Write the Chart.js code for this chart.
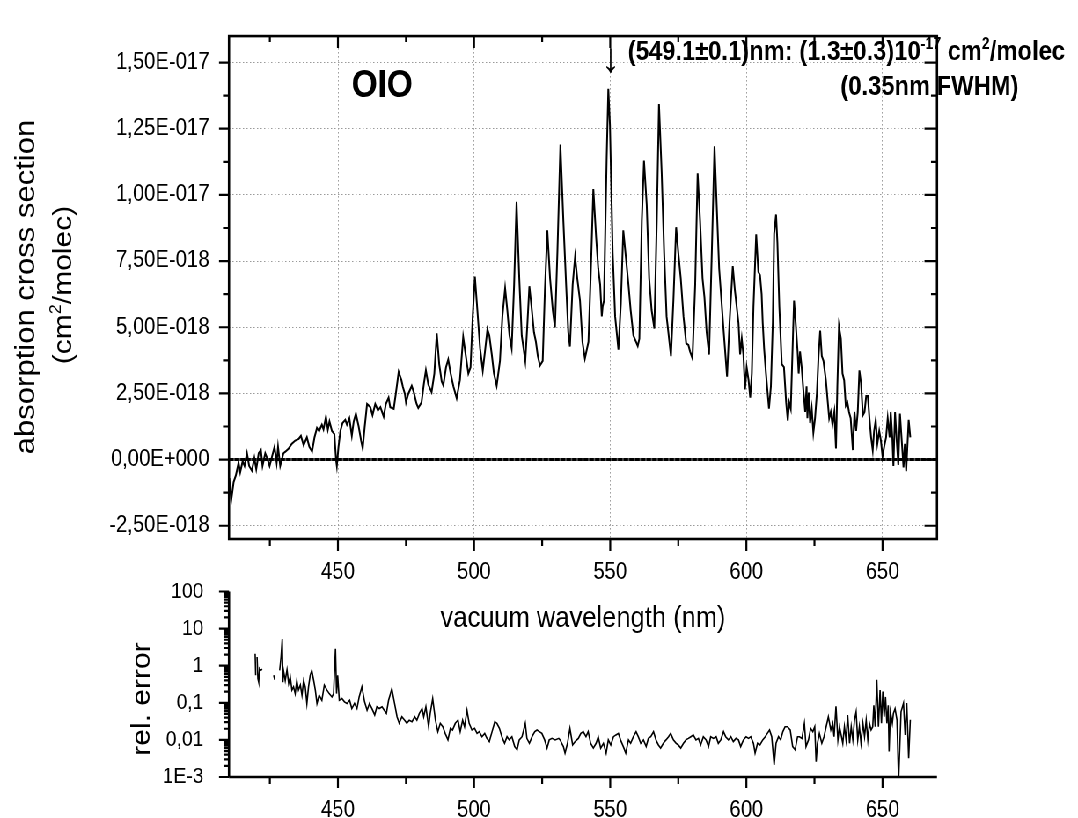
<!DOCTYPE html>
<html><head><meta charset="utf-8">
<script src="https://cdn.jsdelivr.net/npm/chart.js@4.4.1/dist/chart.umd.min.js"></script>
<style>
html,body{margin:0;padding:0;background:#fff;overflow:hidden;width:1078px;height:818px;}
#wrap{position:absolute;left:0;top:0;width:1225px;height:818px;transform:scaleX(0.88);transform-origin:0 0;}
#wrap canvas{position:absolute;left:0;top:0;}
</style></head><body>
<div id="wrap">
<canvas id="top" width="1225" height="818" style="width:1225px;height:818px"></canvas>
<canvas id="bot" width="1225" height="818" style="width:1225px;height:818px"></canvas>
</div>
<script>
// ---- data ----
// absorption cross section of OIO, in units of 1e-18 cm^2/molec
const wavelength = [410.1,410.8,411.7,412.5,413.5,414.1,415.0,415.7,416.6,417.4,418.4,419.3,420.0,420.9,421.7,422.3,423.3,424.2,424.9,425.8,426.7,427.5,428.0,428.8,429.4,430.0,430.7,431.9,433.1,434.3,435.6,436.4,437.4,438.6,439.5,440.5,441.4,442.3,443.1,444.1,444.7,445.6,446.3,446.9,447.8,448.7,449.3,449.6,450.2,450.9,451.7,452.7,453.3,454.2,455.1,455.8,456.6,457.6,458.5,459.1,459.8,460.7,461.9,462.7,463.7,464.7,465.6,466.8,467.6,468.6,469.2,470.5,471.3,472.3,473.3,473.8,474.6,475.0,475.8,477.1,477.9,478.9,479.5,480.7,481.6,482.3,483.2,484.4,485.4,486.3,487.2,488.1,488.7,489.7,490.5,491.4,492.4,493.6,494.8,496.0,496.9,497.9,498.7,499.5,500.3,501.2,502.2,503.2,504.0,504.9,505.6,506.5,507.3,508.3,509.5,510.4,511.4,512.2,513.0,513.8,514.7,515.6,516.6,517.5,518.8,519.6,520.3,521.1,522.0,522.7,523.4,524.2,525.2,526.0,526.9,527.9,528.9,529.7,530.6,531.7,532.8,533.8,534.6,535.2,536.2,537.1,537.9,538.9,539.8,540.7,542.0,542.8,543.8,544.8,545.6,546.3,546.9,547.2,547.7,548.7,549.3,549.9,550.9,551.8,553.0,553.9,554.8,555.8,556.7,557.5,558.5,559.5,560.1,560.7,561.6,562.4,563.4,564.3,565.2,566.2,567.1,567.9,568.9,569.8,570.7,572.3,573.2,574.2,575.0,575.9,576.9,577.9,578.7,579.3,580.2,581.2,582.1,583.0,583.9,584.6,585.4,586.3,587.3,588.3,589.1,590.0,591.6,592.9,593.8,595.0,595.8,597.1,597.7,598.3,598.9,599.5,600.1,600.8,601.4,602.0,602.6,603.6,604.4,605.0,605.6,606.0,606.5,607.2,608.3,609.0,609.7,610.2,610.9,611.4,612.1,613.0,613.8,614.6,615.2,615.7,616.3,616.9,617.5,618.1,618.8,619.2,619.7,620.3,620.9,621.6,622.1,622.4,622.9,623.4,624.0,624.6,625.2,625.9,626.5,627.1,627.7,628.3,629.2,629.8,630.4,631.0,631.6,632.3,632.9,633.4,634.0,634.7,635.3,635.9,636.5,637.1,637.7,638.3,639.1,639.7,640.3,640.9,641.5,642.1,642.8,643.4,644.0,644.6,645.2,645.8,646.4,646.9,647.5,648.1,648.8,649.4,650.0,650.6,651.3,651.9,652.6,653.0,653.6,654.0,654.6,655.2,655.8,656.4,657.0,657.7,658.2,658.7,659.6,660.2];
const crossSection = [-0.7,-1.55,-0.85,-0.6,-0.12,-0.48,-0.06,-0.24,0.24,-0.24,-0.42,0.06,-0.36,0.24,0.36,-0.24,0.24,0.0,-0.24,0.12,0.48,-0.12,0.48,-0.24,0.0,0.24,0.30,0.42,0.60,0.72,0.78,0.90,0.54,0.84,0.48,0.30,0.84,1.20,1.08,1.32,1.14,1.62,1.14,1.44,1.08,0.96,0.0,-0.24,0.48,1.08,1.38,1.50,1.32,1.56,0.90,1.44,1.74,1.26,0.72,0.42,1.20,2.10,1.98,1.68,2.10,1.86,1.98,1.62,2.10,2.34,1.98,1.92,2.52,3.31,3.01,2.77,2.47,2.16,2.47,2.79,2.53,2.10,1.95,2.16,2.89,3.37,2.83,2.55,3.25,4.77,3.61,2.95,2.80,3.49,3.78,3.25,2.77,2.32,3.00,4.63,3.97,3.25,3.49,5.41,6.91,5.65,4.21,3.37,4.09,4.93,4.69,3.97,3.25,2.79,3.73,5.41,6.47,5.65,4.69,4.21,6.61,9.74,6.85,4.69,3.73,5.17,6.55,5.77,4.81,4.45,3.91,3.55,3.73,6.37,8.66,6.85,5.65,4.99,7.82,11.9,9.0,6.6,4.81,4.27,6.61,7.67,6.85,6.01,4.45,3.82,4.45,6.85,10.22,8.42,7.22,6.61,5.41,5.77,6.01,11.42,14.01,12.63,7.82,5.41,4.15,5.89,8.66,7.58,6.61,5.65,4.69,4.45,4.29,4.57,9.02,11.30,9.62,6.85,5.65,4.95,9.02,13.43,10.82,7.82,5.41,3.91,6.01,8.78,7.82,6.85,5.41,4.39,4.33,4.09,3.82,6.61,10.82,9.02,6.85,6.13,4.81,3.97,7.82,11.84,9.62,7.22,4.93,3.13,5.17,7.31,6.37,5.17,3.97,4.57,3.97,2.65,3.49,3.00,2.34,3.25,5.77,8.51,7.09,6.97,6.25,5.17,4.21,3.25,1.92,2.77,5.17,8.54,9.26,8.18,5.77,3.61,3.49,2.16,1.47,2.16,1.92,3.97,6.01,5.17,4.09,3.25,4.09,3.49,2.65,1.80,2.77,1.56,2.53,1.38,1.92,1.02,1.56,2.53,3.91,4.87,3.91,3.73,3.00,2.28,1.56,1.80,1.32,1.80,0.42,2.77,5.03,4.57,3.25,3.00,2.04,2.16,1.80,1.56,0.36,1.80,1.08,1.80,3.37,2.89,1.68,1.80,2.40,2.40,1.56,0.84,0.36,1.08,1.50,0.60,1.08,0.72,0.12,0.48,0.84,1.56,0.84,1.80,0.84,-0.24,1.80,0.72,-0.2,1.74,0.8,-0.3,0.6,-0.44,1.5,0.84];

// relative error (null = gap in the measured curve)
const errWavelength = [419.6,419.8,420.0,420.3,420.6,420.9,421.2,421.6,422.2,422.4,426.4,426.8,427.2,428.6,429.1,429.55,429.8,430.0,430.65,431.3,431.9,432.5,433.1,433.7,434.3,434.9,435.5,436.2,436.8,437.4,438.0,438.6,439.2,439.8,440.4,441.1,441.7,442.3,443.1,444.1,445.0,446.0,446.8,447.8,448.4,449.1,449.5,449.9,450.5,451.5,452.4,453.3,454.3,455.1,456.1,457.0,457.8,458.8,459.8,460.7,461.6,462.5,463.5,464.3,465.2,466.2,467.0,467.8,468.6,469.8,470.8,471.7,472.5,473.5,474.5,475.3,476.2,477.2,478.2,479.0,479.9,480.9,481.5,482.3,483.3,483.9,484.8,485.8,486.7,487.6,488.5,489.4,490.4,491.3,492.1,493.1,494.1,494.9,495.8,496.5,497.4,498.2,499.2,500.2,501.1,501.9,502.9,503.9,504.7,505.6,506.6,507.6,508.4,509.3,510.2,511.2,512.1,512.9,513.9,514.9,515.8,516.6,517.6,518.2,518.8,519.4,520.3,521.3,522.3,523.1,524.0,524.9,525.9,526.8,527.6,528.6,529.8,531.1,531.6,532.8,533.4,534.3,535.2,536.2,537.1,538.3,539.2,540.1,541.1,541.9,542.8,543.8,544.8,545.6,546.5,547.5,548.5,549.3,550.2,551.2,552.1,553.0,553.8,554.8,555.7,556.7,557.5,558.5,559.5,560.3,561.2,562.2,563.2,564.0,564.9,565.9,566.8,567.7,568.5,569.5,570.5,571.4,572.2,573.2,574.2,575.0,575.9,576.9,577.8,578.7,579.6,580.5,581.5,582.4,583.2,584.2,585.2,586.1,586.9,587.9,588.9,589.7,590.6,591.6,592.4,593.4,594.3,595.2,596.2,597.1,597.9,598.9,599.9,600.8,601.6,602.6,603.2,604.1,605.0,606.0,606.9,607.7,608.5,609.3,610.2,610.9,611.8,612.6,613.4,614.2,615.1,616.1,617.0,617.9,618.8,619.5,620.4,621.3,621.9,622.8,623.6,624.4,625.1,625.6,626.1,626.8,627.7,628.5,629.3,630.1,631.0,631.7,632.2,632.9,633.6,634.2,634.8,635.4,636.0,636.6,637.2,637.9,638.5,639.1,639.7,640.3,640.9,641.5,642.1,642.8,643.4,644.0,644.6,645.2,645.8,646.4,646.8,647.3,647.9,648.5,649.1,649.6,650.1,650.6,651.1,651.6,652.1,652.4,652.9,653.6,654.0,654.6,655.3,655.9,656.8,657.7,658.3,658.9,659.6,660.2];
const relError = [2.09,0.55,null,1.71,0.45,0.36,0.83,0.75,0.80,null,0.55,0.42,null,0.75,1.71,5.28,0.36,0.75,0.40,0.78,0.33,0.50,0.22,0.27,0.177,0.40,0.22,0.30,0.16,0.40,0.27,0.096,0.27,0.55,0.75,0.40,0.22,0.096,0.16,0.117,0.30,0.22,0.177,0.144,0.177,2.85,0.177,0.55,0.117,0.13,0.106,0.096,0.117,0.070,0.096,0.070,0.144,0.27,0.106,0.063,0.096,0.070,0.047,0.078,0.070,0.078,0.063,0.052,0.117,0.24,0.096,0.042,0.028,0.042,0.034,0.028,0.034,0.031,0.042,0.034,0.052,0.070,0.042,0.078,0.0227,0.052,0.130,0.034,0.0167,0.028,0.0227,0.015,0.010,0.0205,0.0185,0.028,0.034,0.0167,0.034,0.0227,0.063,0.028,0.0185,0.0205,0.015,0.0167,0.0122,0.015,0.011,0.009,0.0167,0.031,0.028,0.0205,0.0122,0.0081,0.0122,0.010,0.0122,0.0066,0.0054,0.010,0.0122,0.0185,0.028,0.011,0.0081,0.0122,0.0167,0.0185,0.0167,0.015,0.010,0.006,0.010,0.011,0.010,0.011,0.010,0.0066,0.0044,0.0081,0.0205,0.0073,0.009,0.011,0.015,0.0167,0.0122,0.0167,0.0081,0.006,0.0081,0.0122,0.006,0.0081,0.0044,0.010,0.0073,0.0122,0.0136,0.015,0.010,0.0066,0.0044,0.010,0.0081,0.0122,0.0167,0.0122,0.0081,0.010,0.0066,0.011,0.0122,0.0167,0.010,0.0073,0.006,0.0081,0.010,0.0122,0.015,0.010,0.0081,0.0073,0.006,0.0081,0.010,0.011,0.0122,0.0136,0.010,0.011,0.0073,0.0122,0.010,0.0066,0.0122,0.011,0.0122,0.0081,0.010,0.0167,0.0122,0.010,0.0122,0.009,0.011,0.010,0.0066,0.010,0.0122,0.011,0.0122,0.0081,0.0044,0.0081,0.0073,0.010,0.0122,0.015,0.0185,0.0122,0.0021,0.0081,0.0122,0.010,0.0167,0.0227,0.0227,0.0185,0.0066,0.0054,0.0122,0.0122,0.011,0.028,0.0066,0.010,0.0205,0.0167,0.0227,0.0026,0.0081,0.015,0.0081,0.0122,0.0227,0.042,0.0185,0.028,0.0122,0.081,0.010,0.0227,0.0136,0.0081,0.0227,0.010,0.047,0.0081,0.0227,0.010,0.034,0.057,0.010,0.0227,0.0081,0.028,0.0122,0.034,0.010,0.028,0.0185,0.0227,0.086,0.0227,0.42,0.0227,0.22,0.028,0.20,0.042,0.144,0.028,0.086,0.0049,0.057,0.028,0.052,0.070,0.034,0.0008,0.057,0.098,0.0135,0.098,0.0032,0.035];

// axes
const xTickValues = [450, 500, 550, 600, 650];
const xMinorTicks = [425, 475, 525, 575, 625];
const csTickValues = [-2.5, 0, 2.5, 5, 7.5, 10, 12.5, 15];
const csTickLabels = ['-2,50E-018','0,00E+000','2,50E-018','5,00E-018','7,50E-018','1,00E-017','1,25E-017','1,50E-017'];
const csMinorTicks = [-1.25, 1.25, 3.75, 6.25, 8.75, 11.25, 13.75];
const errTickValues = [0.001, 0.01, 0.1, 1, 10, 100];
const errTickLabels = ['1E-3','0,01','0,1','1','10','100'];

// ---- drawing (canvas drawn wide, then squeezed horizontally by S) ----
const S = 0.88, W = 1225;
const X = v => v / S;          // page px -> canvas px (horizontal)
const FAM = '"Liberation Sans", Arial, Helvetica, sans-serif';
const INK = '#000';
const PLOT_L = X(229), PLOT_R = X(937);

function strokeSegs(ctx, segs, width) {
  ctx.save(); ctx.strokeStyle = INK; ctx.lineWidth = width; ctx.setLineDash([]);
  ctx.beginPath();
  segs.forEach(([x1, y1, x2, y2]) => { ctx.moveTo(x1, y1); ctx.lineTo(x2, y2); });
  ctx.stroke(); ctx.restore();
}
function xSegs(scale, vals, yEdge, len) {
  return vals.map(v => { const p = scale.getPixelForValue(v); return [p, yEdge, p, yEdge + len]; });
}
function ySegs(scale, vals, xEdge, len) {
  return vals.map(v => { const p = scale.getPixelForValue(v); return [xEdge, p, xEdge + len, p]; });
}
function runsWidth(ctx, runs) {
  let w = 0; runs.forEach(r => { ctx.font = r.font; w += ctx.measureText(r.t).width; }); return w;
}
function drawRuns(ctx, x, y, runs) {
  let cx = x;
  runs.forEach(r => { ctx.font = r.font; ctx.fillText(r.t, cx, y + (r.dy || 0)); cx += ctx.measureText(r.t).width; });
}
function vRuns(ctx, bx, cy, runs) {
  ctx.save(); ctx.translate(bx, cy); ctx.rotate(-Math.PI / 2);
  ctx.textAlign = 'left'; ctx.textBaseline = 'alphabetic';
  const w = runsWidth(ctx, runs); drawRuns(ctx, -w / 2, 0, runs); ctx.restore();
}

const topDecor = {
  id: 'topDecor',
  beforeDatasetsDraw(chart) {
    const {ctx, chartArea: a, scales: {y}} = chart;
    const y0 = y.getPixelForValue(0);
    ctx.save();
    ctx.lineWidth = 3; ctx.strokeStyle = '#555';
    ctx.beginPath(); ctx.moveTo(a.left, y0); ctx.lineTo(a.right, y0); ctx.stroke();
    ctx.setLineDash([5, 1.5]); ctx.strokeStyle = '#000';
    ctx.beginPath(); ctx.moveTo(a.left, y0); ctx.lineTo(a.right, y0); ctx.stroke();
    ctx.restore();
  },
  afterDraw(chart) {
    const {ctx, chartArea: a, scales: {x, y}} = chart;
    ctx.save();
    ctx.strokeStyle = INK; ctx.lineWidth = 2.6;
    ctx.strokeRect(a.left, a.top, a.right - a.left, a.bottom - a.top);
    strokeSegs(ctx, [
      ...xSegs(x, xTickValues, a.bottom, 12), ...xSegs(x, xMinorTicks, a.bottom, 7),
      ...xSegs(x, xTickValues, a.top, 12), ...xSegs(x, xMinorTicks, a.top, 6),
      ...ySegs(y, csTickValues, a.left, -X(10)), ...ySegs(y, csMinorTicks, a.left, -X(6)),
      ...ySegs(y, csTickValues, a.right, -X(12.5)), ...ySegs(y, csMinorTicks, a.right, -X(6))
    ], 2.2);
    ctx.fillStyle = INK;
    vRuns(ctx, X(34.4), 287, [{t: 'absorption cross section', font: `31px ${FAM}`}]);
    vRuns(ctx, X(71.7), 285, [{t: '(cm', font: `30px ${FAM}`}, {t: '2', font: `18px ${FAM}`, dy: -12}, {t: '/molec)', font: `30px ${FAM}`}]);
    ctx.textBaseline = 'alphabetic';
    ctx.textAlign = 'center';
    ctx.font = `bold 38px ${FAM}`; ctx.fillText('OIO', X(382.2), 97);
    ctx.font = `42px ${FAM}`; ctx.fillText('\u2193', X(610.5), 72);
    ctx.textAlign = 'left';
    const B = `bold 27px ${FAM}`, SUP = `bold 16px ${FAM}`;
    drawRuns(ctx, X(627.8), 60, [
      {t: '(549.1\u00b10.1)nm: (1.3\u00b10.3)10', font: B},
      {t: '-17', font: SUP, dy: -11},
      {t: ' cm', font: B},
      {t: '2', font: SUP, dy: -11},
      {t: '/molec', font: B}
    ]);
    ctx.textAlign = 'right'; ctx.font = B;
    ctx.fillText('(0.35nm FWHM)', X(1018.6), 95);
    ctx.restore();
  }
};

const botDecor = {
  id: 'botDecor',
  afterDraw(chart) {
    const {ctx, chartArea: a, scales: {x, y}} = chart;
    const minors = [];
    errTickValues.slice(0, -1).forEach(d => { for (let k = 2; k <= 9; k++) minors.push(d * k); });
    ctx.save();
    strokeSegs(ctx, [[a.left, a.top, a.left, a.bottom], [a.left, a.bottom, a.right, a.bottom]], 2.6);
    strokeSegs(ctx, [
      ...xSegs(x, xTickValues, a.bottom, 11), ...xSegs(x, xMinorTicks, a.bottom, 7),
      ...ySegs(y, errTickValues, a.left, -X(10)), ...ySegs(y, minors, a.left, -X(5.5))
    ], 2.2);
    ctx.fillStyle = INK;
    vRuns(ctx, X(149.8), 699, [{t: 'rel. error', font: `30px ${FAM}`}]);
    ctx.textAlign = 'center'; ctx.textBaseline = 'alphabetic';
    ctx.font = `29px ${FAM}`;
    ctx.fillText('vacuum wavelength (nm)', X(583), 627);
    ctx.restore();
  }
};

const gridStyle = {display: true, drawTicks: false, color: '#9a9a9a', lineWidth: 1};

new Chart(document.getElementById('top'), {
  type: 'line',
  data: {datasets: [{
    data: wavelength.map((w, i) => ({x: w, y: crossSection[i]})),
    borderColor: INK, borderWidth: 2, pointRadius: 0, tension: 0, fill: false
  }]},
  options: {
    responsive: false, animation: false, devicePixelRatio: 1,
    layout: {padding: {top: 14, right: W - PLOT_R, bottom: 218, left: 0}},
    plugins: {legend: {display: false}, tooltip: {enabled: false}, title: {display: false}},
    scales: {
      x: {
        type: 'linear', min: 410, max: 670,
        afterBuildTicks: s => { s.ticks = xTickValues.map(v => ({value: v})); },
        afterFit: s => { s.height = 61; },
        grid: gridStyle, border: {display: false, dash: [1.5, 2.5]},
        ticks: {padding: 20, color: INK, font: {family: FAM, size: 23}, maxRotation: 0, autoSkip: false, callback: v => String(v)}
      },
      y: {
        type: 'linear', min: -3, max: 16,
        afterBuildTicks: s => { s.ticks = csTickValues.map(v => ({value: v})); },
        afterFit: s => { s.width = PLOT_L; },
        grid: gridStyle, border: {display: false, dash: [1.5, 2.5]},
        ticks: {padding: X(19.6), color: INK, font: {family: FAM, size: 23}, autoSkip: false, callback: (v, i) => csTickLabels[i]}
      }
    }
  },
  plugins: [topDecor]
});

new Chart(document.getElementById('bot'), {
  type: 'line',
  data: {datasets: [{
    data: errWavelength.map((w, i) => ({x: w, y: relError[i]})),
    borderColor: INK, borderWidth: 1.6, pointRadius: 0, tension: 0, fill: false, spanGaps: false
  }]},
  options: {
    responsive: false, animation: false, devicePixelRatio: 1,
    layout: {padding: {top: 591.5, right: W - PLOT_R, bottom: 0, left: 0}},
    plugins: {legend: {display: false}, tooltip: {enabled: false}, title: {display: false}},
    scales: {
      x: {
        type: 'linear', min: 410, max: 670,
        afterBuildTicks: s => { s.ticks = xTickValues.map(v => ({value: v})); },
        afterFit: s => { s.height = 41; },
        grid: {display: false}, border: {display: false},
        ticks: {padding: 12, color: INK, font: {family: FAM, size: 23}, maxRotation: 0, autoSkip: false, callback: v => String(v)}
      },
      y: {
        type: 'logarithmic', min: 0.001, max: 100,
        afterBuildTicks: s => { s.ticks = errTickValues.map(v => ({value: v})); },
        afterFit: s => { s.width = PLOT_L; },
        grid: {display: false}, border: {display: false},
        ticks: {padding: X(18.5), color: INK, font: {family: FAM, size: 22}, autoSkip: false, callback: (v, i) => errTickLabels[i]}
      }
    }
  },
  plugins: [botDecor]
});
</script>
</body></html>
